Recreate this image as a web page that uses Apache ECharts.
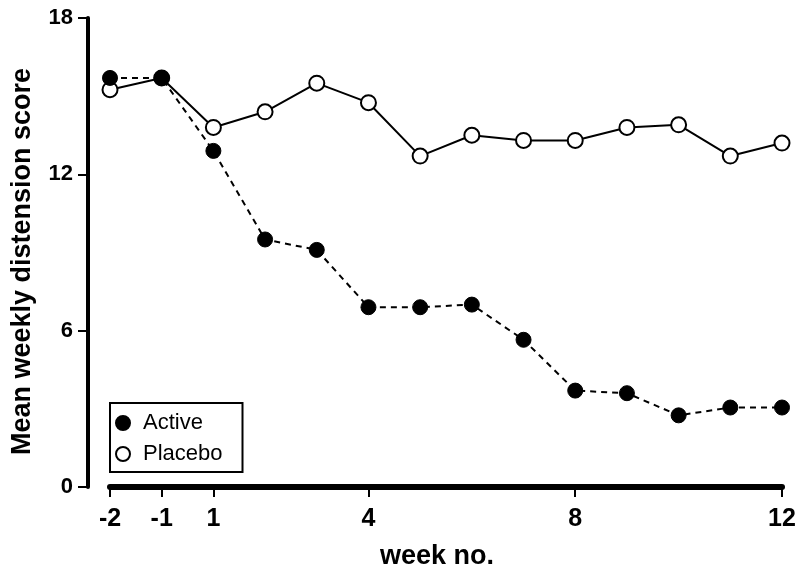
<!DOCTYPE html>
<html><head><meta charset="utf-8">
<script src="https://cdn.jsdelivr.net/npm/echarts@6/dist/echarts.min.js"></script>
<style>html,body{margin:0;padding:0;background:#fff}#c{width:807px;height:564px}</style>
</head><body><div id="c"></div>
<script>
const weeks = ['-2','-1','1','2','3','4','5','6','7','8','9','10','11','12'];
const shownWeeks = ['-2','-1','1','4','8','12'];
const active = [15.7,15.7,12.9,9.5,9.1,6.9,6.9,7.0,5.65,3.7,3.6,2.75,3.05,3.05];
const placebo = [15.25,15.7,13.8,14.4,15.5,14.75,12.7,13.5,13.3,13.3,13.8,13.9,12.7,13.2];
const yTicks = [0,6,12,18];

const font = 'Liberation Sans, Arial, Helvetica, sans-serif';
const chart = echarts.init(document.getElementById('c'), null, {renderer:'canvas'});
chart.setOption({
  animation:false,
  backgroundColor:'#fff',
  grid:{left:110,right:25,top:18,bottom:77,containLabel:false,outerBoundsMode:'none'},
  xAxis:{
    type:'category', data:weeks, boundaryGap:false,
    name:'week no.', nameLocation:'middle', nameGap:56,
    nameTextStyle:{fontFamily:font,fontWeight:'bold',fontSize:27,color:'#000',padding:[0,18,0,0]},
    axisLine:{lineStyle:{color:'#000',width:6}},
    axisTick:{length:10,lineStyle:{color:'#000',width:2},interval:(i,v)=>shownWeeks.includes(weeks[i])},
    axisLabel:{margin:20,fontFamily:font,fontWeight:'bold',fontSize:25,color:'#000',
      interval:(i,v)=>shownWeeks.includes(v)},
    splitLine:{show:false}
  },
  yAxis:{
    type:'value', min:yTicks[0], max:yTicks[yTicks.length-1], interval:6, offset:22,
    name:'Mean weekly distension score', nameLocation:'middle', nameGap:44,
    nameTextStyle:{fontFamily:font,fontWeight:'bold',fontSize:27,color:'#000',padding:[0,18,8,0]},
    axisLine:{show:true,lineStyle:{color:'#000',width:4}},
    axisTick:{show:true,length:10,lineStyle:{color:'#000',width:2}},
    axisLabel:{margin:15,fontFamily:font,fontWeight:'bold',fontSize:22,color:'#000'},
    splitLine:{show:false}
  },
  legend:{
    orient:'vertical', left:110, top:403,
    borderColor:'#000', borderWidth:2, padding:[9,20,7,5], itemGap:9,
    itemWidth:14, itemHeight:14,
    textStyle:{fontFamily:font,fontSize:22,color:'#000',lineHeight:22,padding:[0,0,0,8]},
    data:[{name:'Active',icon:'circle'},{name:'Placebo',icon:'circle'}]
  },
  series:[
    {name:'Active',type:'line',data:active,symbol:'circle',symbolSize:15,
     lineStyle:{color:'#000',width:2,type:[6,5]},
     itemStyle:{color:'#000',borderColor:'#000',borderWidth:1},z:3},
    {name:'Placebo',type:'line',data:placebo,symbol:'circle',symbolSize:15,
     lineStyle:{color:'#000',width:2},
     itemStyle:{color:'#fff',borderColor:'#000',borderWidth:2},z:2}
  ]
});
</script></body></html>
